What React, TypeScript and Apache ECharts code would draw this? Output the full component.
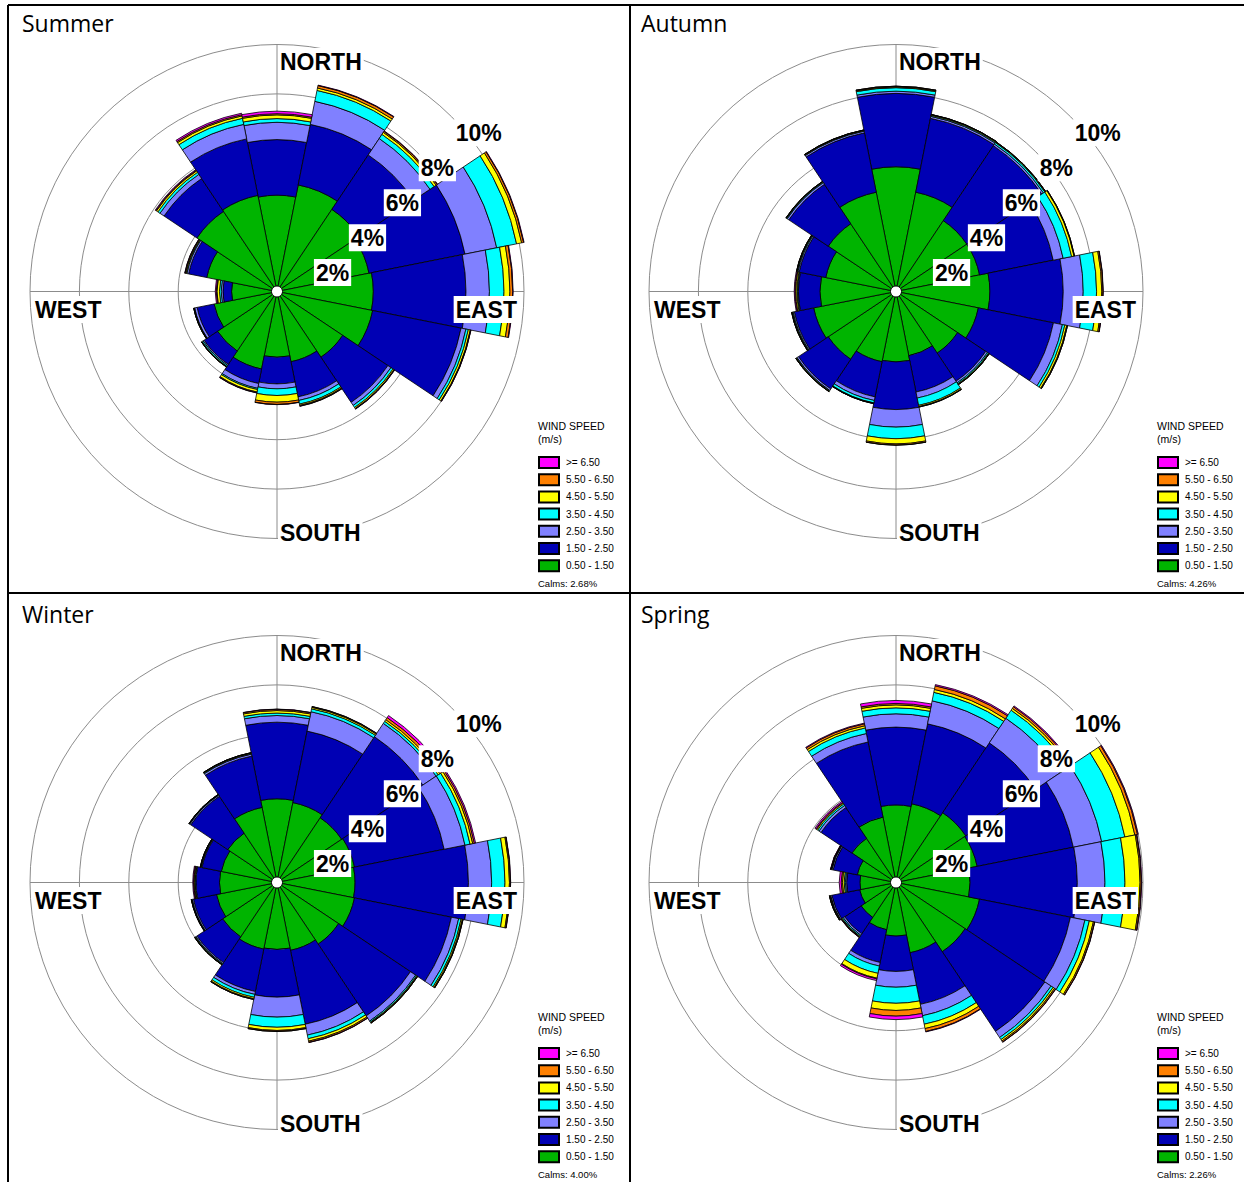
import React, { useEffect, useRef } from 'react';
import * as echarts from 'echarts';

const DIRECTIONS = ['N', 'NNE', 'NE', 'ENE', 'E', 'ESE', 'SE', 'SSE', 'S', 'SSW', 'SW', 'WSW', 'W', 'WNW', 'NW', 'NNW'];
const SPEED_CLASSES = ['0.50 - 1.50', '1.50 - 2.50', '2.50 - 3.50', '3.50 - 4.50', '4.50 - 5.50', '5.50 - 6.50', '>= 6.50'];
const CLASS_COLORS = ['#00b400', '#0000b4', '#8080ff', '#00ffff', '#ffff00', '#ff8000', '#ff00ff'];
const RING_VALUES = [2, 4, 6, 8, 10];
const RING_LABELS = ['2%', '4%', '6%', '8%', '10%'];
const SEASONS = ['Summer', 'Autumn', 'Winter', 'Spring'];
const CALMS = ['Calms: 2.68%', 'Calms: 4.26%', 'Calms: 4.00%', 'Calms: 2.26%'];

// frequency (%) per speed class (rows) and direction (columns N..NNW)
const SUMMER = [
  [3.9, 4.4, 4.0, 3.8, 3.9, 3.95, 3.2, 2.9, 2.66, 3.2, 2.9, 2.6, 1.84, 2.9, 3.9, 3.97],
  [2.25, 2.5, 2.65, 3.96, 3.75, 3.65, 2.2, 1.45, 1.08, 0.6, 0.65, 0.7, 0.35, 0.75, 1.6, 2.33],
  [0.7, 0.95, 0.8, 1.31, 0.95, 0.2, 0.15, 0.15, 0.2, 0.2, 0.05, 0.1, 0.07, 0.07, 0.2, 0.6],
  [0.15, 0.45, 0.2, 0.82, 0.59, 0.1, 0.1, 0.15, 0.27, 0.05, 0.05, 0.02, 0.07, 0.03, 0.1, 0.25],
  [0.15, 0.1, 0.1, 0.21, 0.24, 0.08, 0.05, 0.05, 0.27, 0.1, 0.02, 0.01, 0.1, 0.03, 0.07, 0.1],
  [0.05, 0.1, 0.05, 0.08, 0.11, 0.02, 0.02, 0.03, 0.09, 0.03, 0.01, 0.01, 0.03, 0.02, 0.03, 0.05],
  [0.1, 0.02, 0.02, 0.02, 0.02, 0.01, 0.01, 0.01, 0.01, 0.01, 0, 0, 0.04, 0.01, 0.03, 0.06],
];
const AUTUMN = [
  [5.05, 4.1, 3.45, 3.45, 3.8, 3.4, 3.0, 2.65, 2.85, 2.9, 3.3, 3.4, 3.08, 2.9, 3.3, 4.1],
  [2.97, 3.05, 3.65, 3.04, 2.97, 3.1, 1.37, 1.5, 1.93, 1.45, 1.45, 0.8, 0.87, 1.1, 1.92, 2.45],
  [0.09, 0.08, 0.08, 0.41, 0.81, 0.37, 0.08, 0.25, 0.71, 0.15, 0.07, 0.05, 0.03, 0.05, 0.08, 0.07],
  [0.14, 0.04, 0.07, 0.35, 0.54, 0.1, 0.05, 0.3, 0.47, 0.1, 0.03, 0.03, 0.03, 0.03, 0.03, 0.02],
  [0.03, 0.03, 0.03, 0.1, 0.21, 0.08, 0.03, 0.05, 0.21, 0.02, 0.02, 0.02, 0.05, 0.02, 0.02, 0.02],
  [0.03, 0.01, 0.01, 0.02, 0.05, 0.03, 0.01, 0.02, 0.05, 0.01, 0.01, 0.01, 0.03, 0.01, 0.01, 0.01],
  [0, 0, 0, 0, 0.01, 0, 0, 0, 0, 0, 0, 0, 0.03, 0, 0, 0],
];
const WINTER = [
  [3.39, 3.3, 3.15, 3.2, 3.16, 3.2, 3.0, 2.8, 2.71, 2.75, 2.65, 2.5, 2.33, 2.3, 2.4, 3.1],
  [3.1, 2.95, 3.95, 3.7, 4.59, 4.0, 3.5, 3.05, 1.93, 1.75, 1.25, 0.95, 0.95, 0.8, 1.8, 2.12],
  [0.27, 0.8, 0.65, 0.86, 0.94, 0.3, 0.25, 0.45, 0.81, 0.12, 0.05, 0.05, 0.03, 0.03, 0.05, 0.08],
  [0.1, 0.12, 0.1, 0.21, 0.54, 0.1, 0.05, 0.15, 0.41, 0.12, 0.03, 0.02, 0.02, 0.02, 0.02, 0.03],
  [0.1, 0.06, 0.08, 0.11, 0.18, 0.05, 0.03, 0.1, 0.13, 0.06, 0.02, 0.01, 0.03, 0.01, 0.01, 0.02],
  [0.05, 0.03, 0.1, 0.07, 0.04, 0.03, 0.02, 0.05, 0.04, 0.03, 0.01, 0.01, 0.02, 0.01, 0.01, 0.01],
  [0.01, 0.01, 0.1, 0.05, 0.01, 0, 0, 0.01, 0, 0, 0, 0, 0.03, 0, 0, 0],
];
const SPRING = [
  [3.14, 3.25, 3.4, 3.35, 3.0, 3.45, 3.37, 2.9, 2.17, 1.95, 1.7, 1.5, 1.46, 1.6, 2.15, 2.7],
  [3.15, 3.3, 3.4, 3.97, 4.34, 3.75, 3.88, 2.13, 1.43, 1.35, 0.8, 1.15, 0.54, 1.0, 1.5, 3.1],
  [0.54, 0.95, 1.2, 1.17, 1.12, 0.6, 0.3, 0.47, 0.64, 0.15, 0.07, 0.05, 0.05, 0.05, 0.1, 0.35],
  [0.24, 0.35, 0.39, 0.96, 0.81, 0.18, 0.1, 0.35, 0.65, 0.3, 0.05, 0.02, 0.05, 0.02, 0.07, 0.23],
  [0.12, 0.12, 0.09, 0.41, 0.61, 0.17, 0.07, 0.18, 0.29, 0.2, 0.03, 0.02, 0.07, 0.02, 0.05, 0.09],
  [0.06, 0.15, 0.08, 0.11, 0.05, 0.05, 0.05, 0.12, 0.23, 0.03, 0.02, 0.01, 0.05, 0.01, 0.03, 0.08],
  [0.12, 0.05, 0.04, 0.03, 0.02, 0.01, 0.01, 0.02, 0.14, 0.07, 0.01, 0, 0.08, 0.01, 0.05, 0.03],
];
const SEASON_DATA = [SUMMER, AUTUMN, WINTER, SPRING];

const WIDTH = 1244;
const HEIGHT = 1182;
const PANEL_X = [0, 619, 0, 619];
const PANEL_Y = [0, 0, 591, 591];
const CX = 277;
const CY = 291.5;
const R = 247;
const GRID = '#8c8c8c';
const ARIAL = '"Liberation Sans", Arial, sans-serif';
const BOLD = 'bold 23px "Liberation Sans", Arial, sans-serif';

function txt(x: number, y: number, text: string, font: string, align: string, vAlign: string, bg?: boolean) {
  const style: any = {
    text,
    font,
    fill: '#000',
    align,
    verticalAlign: vAlign,
    textAlign: align,
    textVerticalAlign: vAlign,
  };
  if (bg) {
    style.backgroundColor = '#fff';
    style.padding = [2, 2];
  }
  return { type: 'text', x, y, z: 100, style };
}

function buildOption() {
  const polar: any[] = [];
  const angleAxis: any[] = [];
  const radiusAxis: any[] = [];
  const series: any[] = [];
  const legend: any[] = [];
  const graphic: any[] = [];

  for (let i = 0; i < 4; i++) {
    const cx = PANEL_X[i] + CX;
    const cy = PANEL_Y[i] + CY;
    polar.push({ center: [cx, cy], radius: R });
    angleAxis.push({
      polarIndex: i,
      type: 'category',
      data: DIRECTIONS,
      startAngle: 90 + 360 / DIRECTIONS.length / 2,
      clockwise: true,
      boundaryGap: true,
      axisLine: { show: false },
      axisTick: { show: false },
      axisLabel: { show: false },
      splitLine: { show: false },
    });
    radiusAxis.push({
      polarIndex: i,
      type: 'value',
      min: 0,
      max: 10,
      interval: 2,
      axisLine: { show: false },
      axisTick: { show: false },
      axisLabel: { show: false },
      splitLine: { show: true, lineStyle: { color: GRID, width: 1 } },
    });
    SPEED_CLASSES.forEach((name, k) => {
      series.push({
        type: 'bar',
        name,
        coordinateSystem: 'polar',
        polarIndex: i,
        stack: 'season' + i,
        data: SEASON_DATA[i][k],
        barCategoryGap: '0%',
        clip: false,
        itemStyle: { color: CLASS_COLORS[k], borderColor: '#000', borderWidth: 0.8 },
        emphasis: { disabled: true },
      });
    });
    legend.push({
      orient: 'vertical',
      left: PANEL_X[i] + 538,
      top: PANEL_Y[i] + 456,
      padding: 0,
      itemWidth: 20,
      itemHeight: 11,
      itemGap: 4.2,
      icon: 'rect',
      selectedMode: false,
      data: SPEED_CLASSES.slice().reverse(),
      textStyle: { fontSize: 10, fontFamily: ARIAL, color: '#000', lineHeight: 11, padding: [0, 0, 0, 2] },
    });

    // titles & legend texts
    graphic.push(txt(PANEL_X[i] + 22, PANEL_Y[i] + 23, SEASONS[i], '23px "Open Sans", sans-serif', 'left', 'middle'));
    graphic.push(txt(PANEL_X[i] + 538, PANEL_Y[i] + 426, 'WIND SPEED', '10.5px ' + ARIAL, 'left', 'middle'));
    graphic.push(txt(PANEL_X[i] + 538, PANEL_Y[i] + 439, '(m/s)', '10.5px ' + ARIAL, 'left', 'middle'));
    graphic.push(txt(PANEL_X[i] + 538, PANEL_Y[i] + 583, CALMS[i], '9.5px ' + ARIAL, 'left', 'middle'));

    // ring labels
    RING_VALUES.forEach((v, j) => {
      const r = (v / 10) * R * Math.SQRT1_2;
      graphic.push(txt(cx + r + 2, cy - r + 16, RING_LABELS[j], BOLD, 'left', 'middle', true));
    });
    // compass labels
    graphic.push(txt(cx + 1, cy - R + 17, 'NORTH', BOLD, 'left', 'middle', true));
    graphic.push(txt(cx + R - 5, cy + 18, 'EAST', BOLD, 'right', 'middle', true));
    graphic.push(txt(cx + 1, cy + R - 6, 'SOUTH', BOLD, 'left', 'middle', true));
    graphic.push(txt(cx - R + 3, cy + 18, 'WEST', BOLD, 'left', 'middle', true));
    // calm circle
    graphic.push({
      type: 'circle',
      z: 100,
      shape: { cx, cy, r: 5.5 },
      style: { fill: '#fff', stroke: '#000', lineWidth: 1 },
    });
  }

  // crosshair polars (N/E/S/W lines)
  for (let i = 0; i < 4; i++) {
    polar.push({ center: [PANEL_X[i] + CX, PANEL_Y[i] + CY], radius: R });
    angleAxis.push({
      polarIndex: 4 + i,
      type: 'value',
      min: 0,
      max: 360,
      interval: 90,
      startAngle: 90,
      axisLine: { show: false },
      axisTick: { show: false },
      axisLabel: { show: false },
      splitLine: { show: true, lineStyle: { color: GRID, width: 1 } },
    });
    radiusAxis.push({
      polarIndex: 4 + i,
      type: 'value',
      min: 0,
      max: 10,
      interval: 2,
      axisLine: { show: false },
      axisTick: { show: false },
      axisLabel: { show: false },
      splitLine: { show: false },
    });
  }

  // panel frame lines
  const frame = [
    [8, 5, WIDTH, 5],
    [8, 5, 8, HEIGHT],
    [630, 5, 630, HEIGHT],
    [8, 593, WIDTH, 593],
  ];
  frame.forEach(([x1, y1, x2, y2]) => {
    graphic.push({
      type: 'line',
      z: 100,
      shape: { x1, y1, x2, y2 },
      style: { stroke: '#000', lineWidth: 2 },
    });
  });

  return {
    animation: false,
    backgroundColor: '#fff',
    polar,
    angleAxis,
    radiusAxis,
    legend,
    series,
    graphic: { elements: graphic },
  };
}

export default function App() {
  const ref = useRef<HTMLDivElement>(null);
  useEffect(() => {
    if (!ref.current) return;
    const chart = echarts.init(ref.current, undefined, { renderer: 'svg' });
    chart.setOption(buildOption() as any);
    return () => chart.dispose();
  }, []);
  return (
    <div
      ref={ref}
      style={{ position: 'absolute', left: 0, top: 0, width: WIDTH, height: HEIGHT, background: '#fff' }}
    />
  );
}
